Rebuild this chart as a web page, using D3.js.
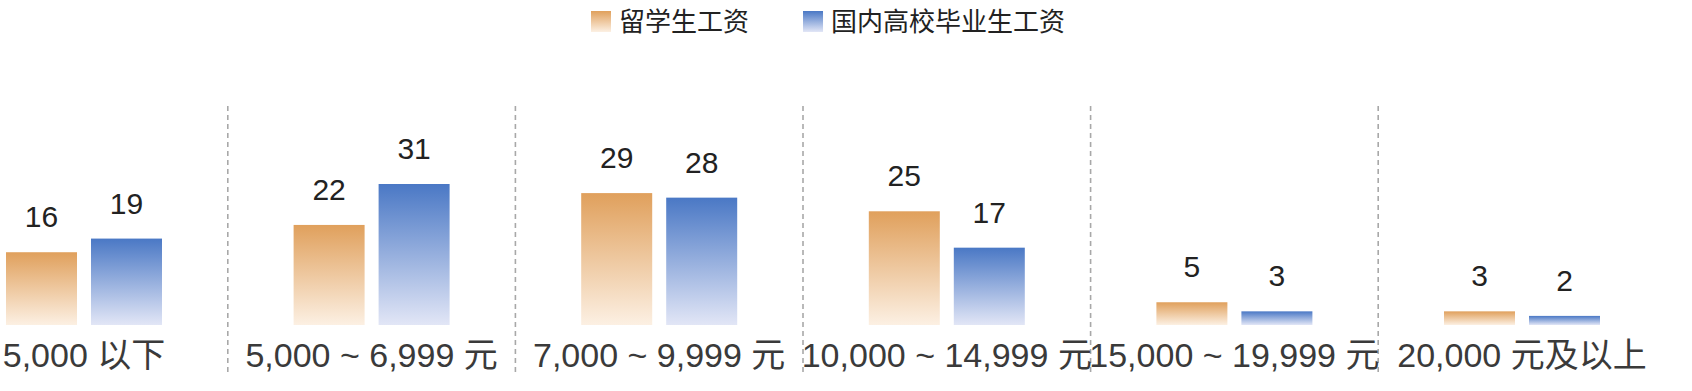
<!DOCTYPE html>
<html>
<head>
<meta charset="utf-8">
<script src="https://cdn.jsdelivr.net/npm/d3@7"></script>
<style>
  html, body { margin: 0; padding: 0; background: #fff; }
  svg { display: block; }
</style>
</head>
<body>
<svg id="chart" width="1692" height="391"></svg>
<script>
const categories = ["5,000 以下", "5,000 ~ 6,999 元", "7,000 ~ 9,999 元", "10,000 ~ 14,999 元", "15,000 ~ 19,999 元", "20,000 元及以上"];
const seriesNames = ["留学生工资", "国内高校毕业生工资"];
const overseasValues = [16, 22, 29, 25, 5, 3];
const domesticValues = [19, 31, 28, 17, 3, 2];

const W = 1692, H = 391;
const FONT = "'Liberation Sans', Arial, 'Noto Sans CJK SC', sans-serif";
const svg = d3.select("#chart");

const defs = svg.append("defs");
const grads = [
  { id: "gOrange", top: "#e0a05c", bottom: "#fcf0e3" },
  { id: "gBlue", top: "#4a78c5", bottom: "#e2e6f6" }
];
grads.forEach(g => {
  const lg = defs.append("linearGradient").attr("id", g.id)
    .attr("x1", 0).attr("y1", 0).attr("x2", 0).attr("y2", 1);
  lg.append("stop").attr("offset", "0%").attr("stop-color", g.top);
  lg.append("stop").attr("offset", "100%").attr("stop-color", g.bottom);
});

const x = d3.scalePoint().domain(categories).range([84, 1522]);
const step = x.step();
const y = d3.scaleLinear().domain([0, 31]).range([325, 184]);

const barW = 71, gap = 14;
const series = [
  { name: seriesNames[0], values: overseasValues, fill: "url(#gOrange)", off: -gap / 2 - barW },
  { name: seriesNames[1], values: domesticValues, fill: "url(#gBlue)", off: gap / 2 }
];

// separators
svg.append("g").selectAll("line")
  .data(categories.slice(1))
  .join("line")
  .attr("x1", d => x(d) - step / 2)
  .attr("x2", d => x(d) - step / 2)
  .attr("y1", 106).attr("y2", 375)
  .attr("stroke", "#a8a8a8")
  .attr("stroke-width", 1.6)
  .attr("stroke-dasharray", "5,4");

// bars
series.forEach(s => {
  const g = svg.append("g");
  g.selectAll("rect")
    .data(categories.map((c, i) => ({ c, v: s.values[i] })))
    .join("rect")
    .attr("x", d => x(d.c) + s.off)
    .attr("y", d => y(d.v))
    .attr("width", barW)
    .attr("height", d => y(0) - y(d.v))
    .attr("fill", s.fill);
  g.selectAll("text")
    .data(categories.map((c, i) => ({ c, v: s.values[i] })))
    .join("text")
    .attr("x", d => x(d.c) + s.off + barW / 2)
    .attr("y", d => y(d.v) - 25)
    .attr("text-anchor", "middle")
    .attr("font-family", FONT)
    .attr("font-size", 30)
    .attr("fill", "#222")
    .text(d => d.v);
});

// category labels
svg.append("g").selectAll("text")
  .data(categories)
  .join("text")
  .attr("x", d => x(d))
  .attr("y", 367)
  .attr("text-anchor", "middle")
  .attr("font-family", FONT)
  .attr("font-size", 34)
  .attr("fill", "#3a3a3a")
  .text(d => d);

// legend
const legend = svg.append("g");
let lx = 591;
series.forEach(s => {
  const item = legend.append("g").attr("transform", `translate(${lx},0)`);
  item.append("rect").attr("x", 0).attr("y", 11).attr("width", 20).attr("height", 21).attr("fill", s.fill);
  const t = item.append("text").attr("x", 28).attr("y", 31)
    .attr("font-family", FONT).attr("font-size", 26).attr("fill", "#222")
    .text(s.name);
  lx += 28 + t.node().getComputedTextLength() + 54;
});
</script>
</body>
</html>
